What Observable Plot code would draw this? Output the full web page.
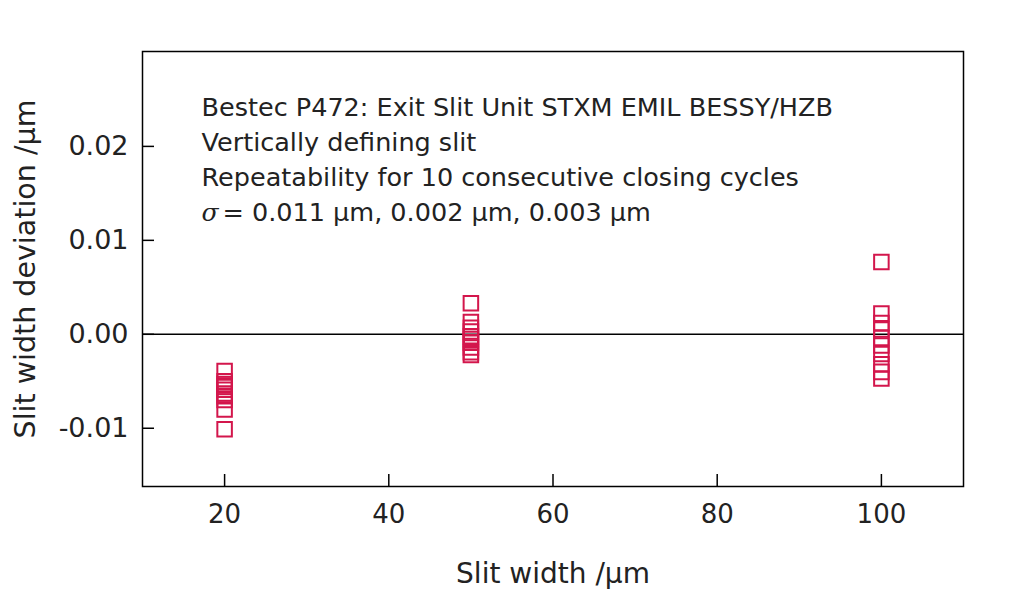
<!DOCTYPE html>
<html>
<head>
<meta charset="utf-8">
<script src="https://cdn.jsdelivr.net/npm/d3@7"></script>
<script src="https://cdn.jsdelivr.net/npm/@observablehq/plot@0.6"></script>
<style>
  html, body { margin: 0; padding: 0; background: #fff; }
  #chart svg { display: block; }
</style>
</head>
<body>
<div id="chart"></div>
<script>
// Slit widths (µm) and the 10 measured deviations (µm) at each
const slitWidths = [20, 50, 100];
const dev20 = [-0.0039, -0.0050, -0.0053, -0.0056, -0.0059, -0.0063, -0.0066, -0.0070, -0.0080, -0.0101];
const dev50 = [0.0033, 0.0013, 0.0007, 0.0003, -0.0002, -0.0005, -0.0009, -0.0014, -0.0019, -0.0022];
const dev100 = [0.0077, 0.0022, 0.0012, 0.0005, -0.0004, -0.0012, -0.0021, -0.0032, -0.0040, -0.0047];
const xTicks = [20, 40, 60, 80, 100];
const yTicks = [-0.01, 0, 0.01, 0.02];
const annotationLines = [
  "Bestec P472: Exit Slit Unit STXM EMIL BESSY/HZB",
  "Vertically defining slit",
  "Repeatability for 10 consecutive closing cycles"
];
const sigmaSymbol = "σ";
const sigmaText = "= 0.011 µm, 0.002 µm, 0.003 µm";
const xTitle = "Slit width /µm";
const yTitle = "Slit width deviation /µm";

const series = [dev20, dev50, dev100];
const points = slitWidths.flatMap((w, i) => series[i].map(v => ({width: w, dev: v})));

const red = "#d3164c";
const ink = "#222";
const font = "DejaVu Sans, Verdana, sans-serif";
const lineBaselines = [64, 99, 134]; // offsets below top of frame
const sigmaBaseline = 169;

const chart = Plot.plot({
  width: 1024,
  height: 589,
  marginLeft: 142,
  marginRight: 61,
  marginTop: 51,
  marginBottom: 103,
  style: {fontFamily: font, color: ink, background: "#fff"},
  x: {domain: [10, 110]},
  y: {domain: [-0.0162, 0.0301]},
  marks: [
    Plot.ruleY([0], {stroke: "#000", strokeWidth: 1.5}),
    Plot.dot(points, {x: "width", y: "dev", symbol: "square", r: 8.2, stroke: red, strokeWidth: 2, fill: "none"}),
    // tick labels
    Plot.axisY(yTicks, {anchor: "left", tickSize: 0, tickPadding: 14, fontSize: 27, tickFormat: d => d.toFixed(2), label: null, fill: ink}),
    Plot.axisX(xTicks, {anchor: "bottom", tickSize: 0, tickPadding: 18, fontSize: 26, label: null, fill: ink}),
    // inward tick marks
    Plot.axisY(yTicks, {anchor: "left", tickSize: 12, dx: 12, tickFormat: () => "", label: null, stroke: "#000", strokeWidth: 1.5}),
    Plot.axisX(xTicks, {anchor: "bottom", tickSize: 12, dy: -12, tickFormat: () => "", label: null, stroke: "#000", strokeWidth: 1.5}),
    Plot.frame({stroke: "#000", strokeWidth: 1.5}),
    // axis titles
    Plot.text([xTitle], {frameAnchor: "bottom", dy: 96, lineAnchor: "bottom", textAnchor: "middle", fontSize: 28, fill: ink}),
    Plot.text([yTitle], {frameAnchor: "left", dx: -108, rotate: -90, lineAnchor: "bottom", textAnchor: "middle", fontSize: 28.5, fill: ink}),
    // annotation
    ...annotationLines.map((t, i) =>
      Plot.text([t], {frameAnchor: "top-left", dx: 59, dy: lineBaselines[i], lineAnchor: "bottom", textAnchor: "start", fontSize: 25.5, fill: ink})
    ),
    Plot.text([sigmaSymbol], {frameAnchor: "top-left", dx: 59, dy: sigmaBaseline, lineAnchor: "bottom", textAnchor: "start", fontSize: 25, fontStyle: "italic", fontFamily: "DejaVu Serif, Liberation Serif, serif", fill: ink}),
    Plot.text([sigmaText], {frameAnchor: "top-left", dx: 80, dy: sigmaBaseline, lineAnchor: "bottom", textAnchor: "start", fontSize: 25.5, fill: ink})
  ]
});
document.getElementById("chart").appendChild(chart);
</script>
</body>
</html>
